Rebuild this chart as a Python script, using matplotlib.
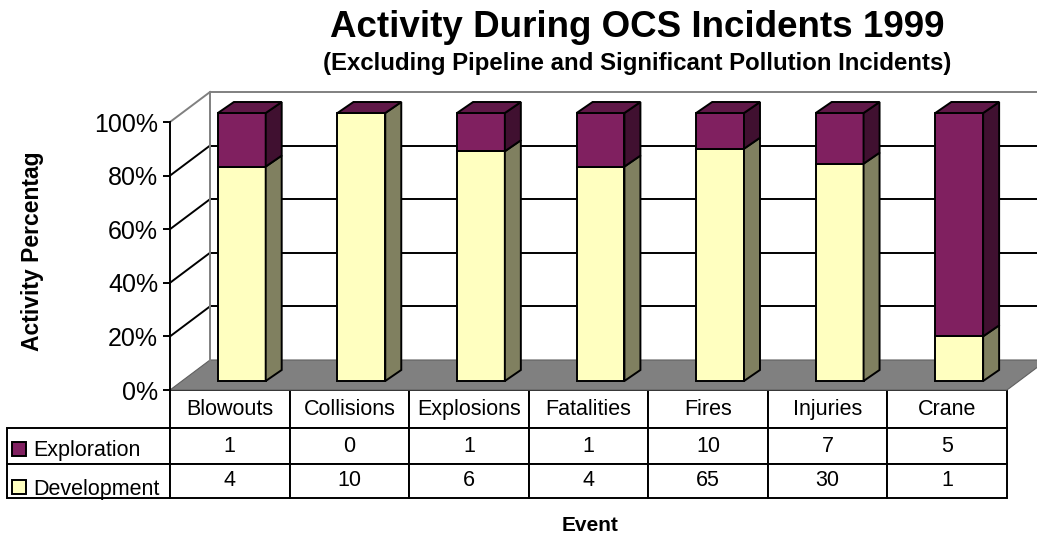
import numpy as np
import matplotlib
matplotlib.use('Agg')
import matplotlib.pyplot as plt
from matplotlib.patches import Polygon, Patch
from matplotlib.table import Table

events = ['Blowouts', 'Collisions', 'Explosions', 'Fatalities', 'Fires', 'Injuries', 'Crane']
exploration = [1, 0, 1, 1, 10, 7, 5]
development = [4, 10, 6, 4, 65, 30, 1]
pct_ticks = [0, 20, 40, 60, 80, 100]
pct_labels = ['0%', '20%', '40%', '60%', '80%', '100%']

plt.rcParams['font.family'] = ['Liberation Sans', 'DejaVu Sans']

EXP_FRONT, EXP_SIDE, EXP_TOP = '#802060', '#401030', '#601848'
DEV_FRONT, DEV_SIDE = '#FFFFC0', '#808060'
GREY = '#808080'
LW = 1.4

W, H = 1037, 537
fig = plt.figure(figsize=(W / 100, H / 100), dpi=100)
# front plane of the 3d box, in pixels: x 170..1007, y 122..390
AX_W, AX_H = 837, 268
ax = fig.add_axes([170 / W, 1 - 390 / H, AX_W / W, AX_H / H])
n = len(events)
ax.set_xlim(0, n)
ax.set_ylim(0, 100)
ax.patch.set_visible(False)

# pixel offsets -> data units
ux = n / AX_W
uy = 100 / AX_H
wall_dx, wall_dy = 40 * ux, 30 * uy   # depth of the floor / walls
bar_dx, bar_dy = 12 * ux, 9 * uy      # bars sit a bit back from the front
dep_dx, dep_dy = 16 * ux, 11 * uy     # bar depth
right_end = n + 0.4

# floor
floor = Polygon([(0, 0), (n, 0), (n + wall_dx, wall_dy), (wall_dx, wall_dy)],
                closed=True, facecolor=GREY, edgecolor='#606060', lw=0.8,
                clip_on=False, zorder=1)
ax.add_patch(floor)

# back wall + left wall grid
for v in pct_ticks[1:-1]:
    ax.plot([wall_dx, right_end], [v + wall_dy, v + wall_dy], color='black', lw=LW,
            clip_on=False, zorder=2)
    ax.plot([0, wall_dx], [v, v + wall_dy], color='black', lw=LW, clip_on=False, zorder=2)
ax.plot([0, wall_dx], [100, 100 + wall_dy], color=GREY, lw=LW, clip_on=False, zorder=2)
ax.plot([wall_dx, wall_dx, right_end], [wall_dy, 100 + wall_dy, 100 + wall_dy],
        color=GREY, lw=LW, clip_on=False, zorder=2)

# stacked 100% bars
totals = np.array(exploration) + np.array(development)
dev_pct = np.array(development) / totals * 100
exp_pct = np.array(exploration) / totals * 100
bw = 0.4
x0 = np.arange(n) + 0.5 - bw / 2 + bar_dx

ax.bar(x0, dev_pct, width=bw, bottom=bar_dy, align='edge', color=DEV_FRONT,
       edgecolor='black', lw=LW, zorder=3, clip_on=False)
ax.bar(x0, exp_pct, width=bw, bottom=dev_pct + bar_dy, align='edge', color=EXP_FRONT,
       edgecolor='black', lw=LW, zorder=3, clip_on=False)

for i in range(n):
    xl, xr = x0[i], x0[i] + bw
    segs = [(bar_dy, dev_pct[i] + bar_dy, DEV_SIDE),
            (dev_pct[i] + bar_dy, 100 + bar_dy, EXP_SIDE)]
    for b, t, c in segs:
        if t - b <= 0:
            continue
        ax.add_patch(Polygon([(xr, b), (xr + dep_dx, b + dep_dy), (xr + dep_dx, t + dep_dy), (xr, t)],
                             closed=True, facecolor=c, edgecolor='black', lw=LW,
                             clip_on=False, zorder=3))
    top = 100 + bar_dy
    ax.add_patch(Polygon([(xl, top), (xr, top), (xr + dep_dx, top + dep_dy), (xl + dep_dx, top + dep_dy)],
                         closed=True, facecolor=EXP_TOP, edgecolor='black', lw=LW,
                         clip_on=False, zorder=3))

# axis
ax.set_xticks([])
ax.set_yticks(pct_ticks, pct_labels, fontsize=18)
ax.tick_params(axis='y', length=5, width=LW, pad=3.5, color='black')
for s in ['top', 'right', 'bottom']:
    ax.spines[s].set_visible(False)
ax.spines['left'].set_linewidth(LW)

# data table under the chart (sizes in axes fractions, bbox = data columns only)
row_h = [38 / AX_H, 36 / AX_H, 34 / AX_H]
col_w, lab_w = 1 / n, 163 / AX_W
tb = Table(ax, bbox=[0, -sum(row_h), 1, sum(row_h)])
for j, ev in enumerate(events):
    tb.add_cell(0, j, col_w, row_h[0], text=ev, loc='center')
for r, vals in enumerate([exploration, development], start=1):
    tb.add_cell(r, -1, lab_w, row_h[r], text='')
    for j, v in enumerate(vals):
        tb.add_cell(r, j, col_w, row_h[r], text=str(v), loc='center')
tb.auto_set_font_size(False)
tb.set_fontsize(15.5)
for cell in tb.get_celld().values():
    cell.set_linewidth(LW)
ax.add_table(tb)
tb.set_clip_on(False)

handles = [Patch(facecolor=EXP_FRONT, edgecolor='black', lw=LW),
           Patch(facecolor=DEV_FRONT, edgecolor='black', lw=LW)]
ax.legend(handles, ['Exploration', 'Development'], loc='center left',
          bbox_to_anchor=(-158 / AX_W, -80 / AX_H), frameon=False, fontsize=15.5,
          handlelength=0.65, handleheight=0.65, handletextpad=0.35,
          labelspacing=0.8, borderpad=0, borderaxespad=0)

fig.text(637 / W, 1 - 37 / H, 'Activity During OCS Incidents 1999', ha='center',
         va='baseline', fontsize=26.5, fontweight='bold')
fig.text(637 / W, 1 - 70 / H, '(Excluding Pipeline and Significant Pollution Incidents)',
         ha='center', va='baseline', fontsize=17.3, fontweight='bold')
fig.text(33 / W, 1 - 251 / H, 'Activity Percentag', rotation=90, ha='center',
         va='center', fontsize=16.5, fontweight='bold')
fig.text(590 / W, 1 - 531 / H, 'Event', ha='center', va='baseline', fontsize=15,
         fontweight='bold')

fig.savefig('out.png', dpi=100)
